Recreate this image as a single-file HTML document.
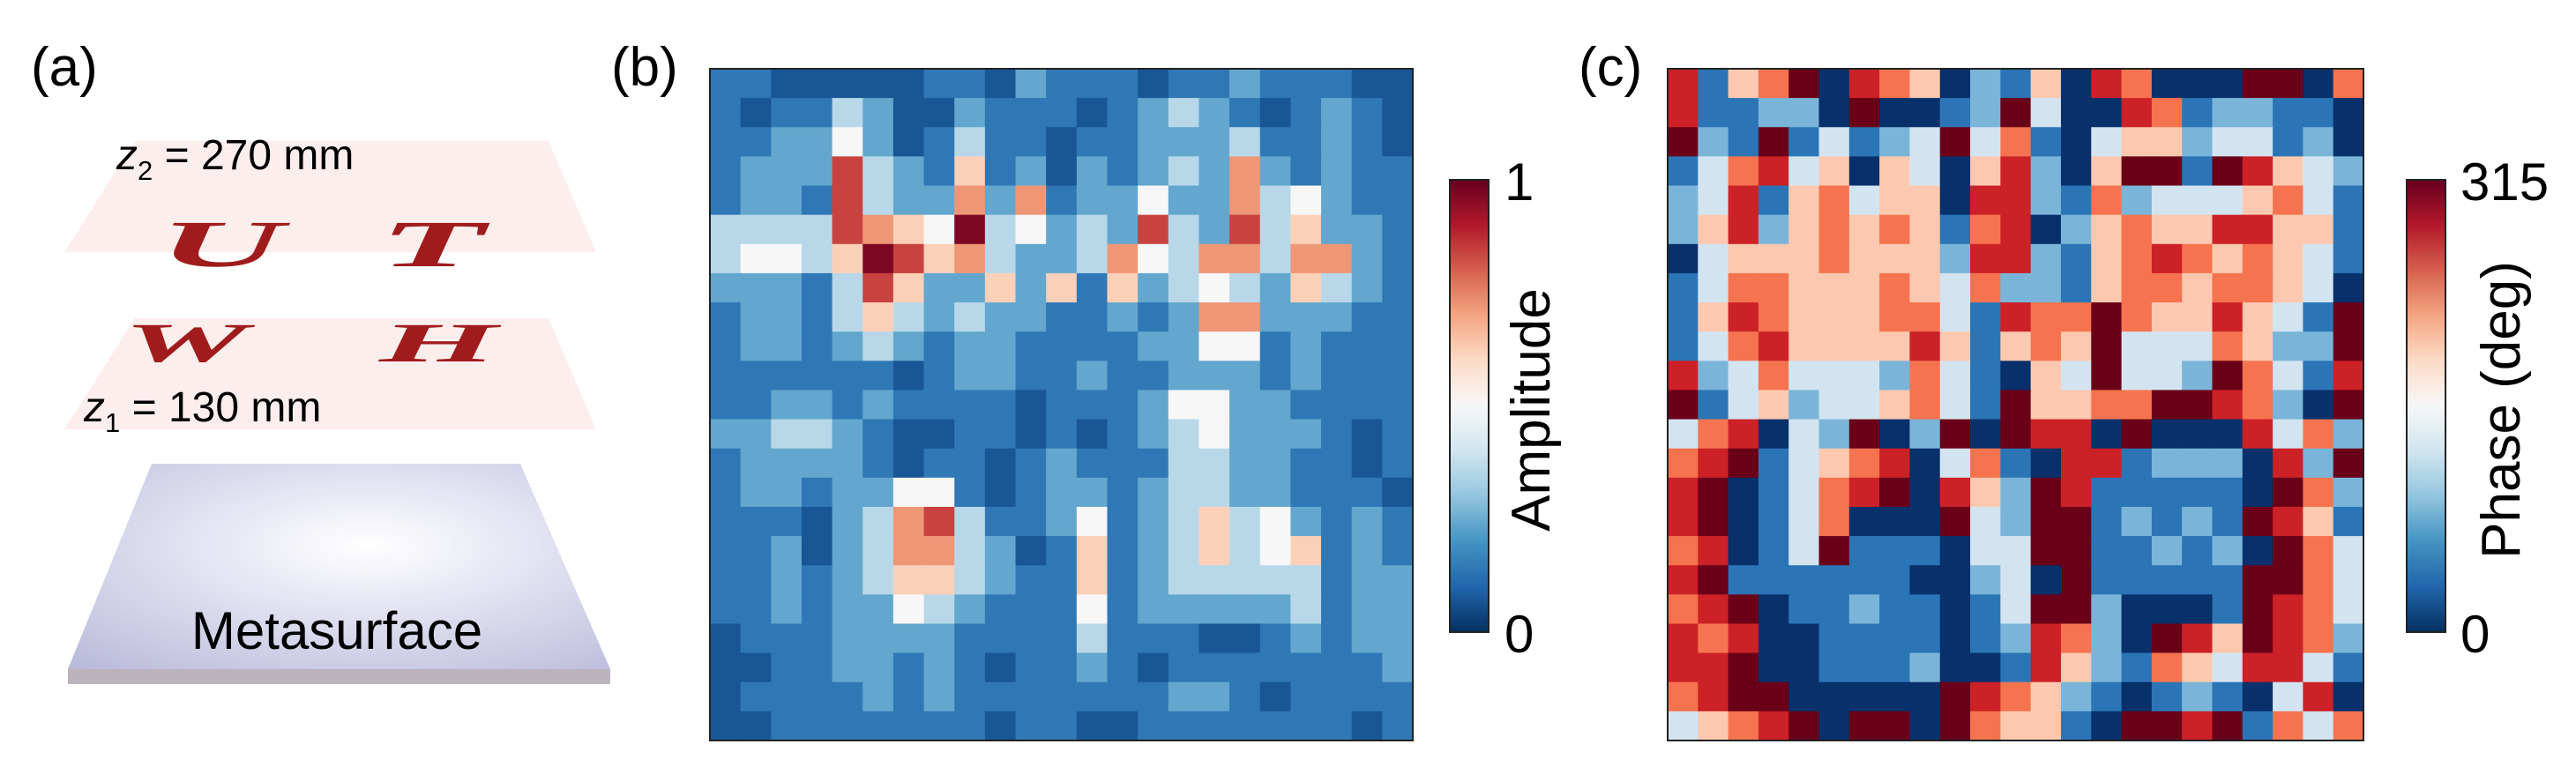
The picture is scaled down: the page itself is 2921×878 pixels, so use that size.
<!DOCTYPE html>
<html><head><meta charset="utf-8">
<style>
html,body{margin:0;padding:0;background:#fff;}
svg{display:block;font-family:"Liberation Sans",Arial,sans-serif;}
</style></head>
<body>
<svg id="fig" width="2921" height="878" viewBox="0 0 2921 878" xmlns="http://www.w3.org/2000/svg">
<defs>
<linearGradient id="cbar" x1="0" y1="1" x2="0" y2="0">
<stop offset="0" stop-color="#053061"/><stop offset="0.1" stop-color="#2166ac"/><stop offset="0.2" stop-color="#4393c3"/><stop offset="0.3" stop-color="#92c5de"/><stop offset="0.4" stop-color="#d1e5f0"/><stop offset="0.5" stop-color="#f7f7f7"/><stop offset="0.6" stop-color="#fddbc7"/><stop offset="0.7" stop-color="#f4a582"/><stop offset="0.8" stop-color="#d6604d"/><stop offset="0.9" stop-color="#b2182b"/><stop offset="1" stop-color="#67001f"/>
</linearGradient>
<radialGradient id="metal" cx="0.55" cy="0.4" r="0.8">
<stop offset="0" stop-color="#ffffff"/><stop offset="0.5" stop-color="#dcdcef"/><stop offset="1" stop-color="#b9bad9"/>
</radialGradient>
</defs>

<!-- Panel (a) -->
<text x="35" y="97" font-size="62">(a)</text>
<polygon points="153,160 622,160 676,286 73,286" fill="#fdeeee"/>
<text x="132" y="192" font-size="48"><tspan font-style="italic">z</tspan><tspan font-size="31" dy="12">2</tspan><tspan dy="-12"> = 270 mm</tspan></text>
<g fill="#a01c1c" font-weight="bold" font-style="italic" font-family="'Liberation Serif',serif">
<text transform="translate(180,302) scale(1.3,0.5)" font-size="150">U</text>
<text transform="translate(430,302) scale(1.3,0.5)" font-size="150">T</text>
</g>
<polygon points="153,361 622,361 676,487 73,487" fill="#fdeeee"/>
<g fill="#a01c1c" font-weight="bold" font-style="italic" font-family="'Liberation Serif',serif">
<text transform="translate(140,410) scale(1.05,0.42)" font-size="150">W</text>
<text transform="translate(430,410) scale(1.15,0.42)" font-size="150">H</text>
</g>
<text x="95" y="478" font-size="48"><tspan font-style="italic">z</tspan><tspan font-size="31" dy="12">1</tspan><tspan dy="-12"> = 130 mm</tspan></text>
<polygon points="172,526 590,526 692,759 77,759" fill="url(#metal)"/>
<polygon points="77,759 692,759 692,776 77,776" fill="#bdb3bd"/>
<text x="382" y="736" font-size="60" text-anchor="middle">Metasurface</text>

<!-- Panel (b) -->
<text x="693" y="97" font-size="62">(b)</text>
<g id="mapB"></g>
<rect x="805" y="78" width="797" height="762" fill="none" stroke="#222" stroke-width="2"/>
<rect x="1644" y="204" width="44" height="513" fill="url(#cbar)" stroke="#222" stroke-width="2"/>
<text x="1706" y="227" font-size="60">1</text>
<text x="1706" y="740" font-size="60">0</text>
<text transform="translate(1757,465) rotate(-90)" font-size="62" text-anchor="middle">Amplitude</text>

<!-- Panel (c) -->
<text x="1790" y="97" font-size="62">(c)</text>
<g id="mapC"></g>
<rect x="1891" y="78" width="789" height="762" fill="none" stroke="#222" stroke-width="2"/>
<rect x="2729" y="204" width="44" height="513" fill="url(#cbar)" stroke="#222" stroke-width="2"/>
<text x="2790" y="227" font-size="60">315</text>
<text x="2790" y="740" font-size="60">0</text>
<text transform="translate(2857,465) rotate(-90)" font-size="62" text-anchor="middle">Phase (deg)</text>
</svg>

<script>
// Amplitude levels (0..9), rows top to bottom
const ampRows = [
"22111112213222122322211",
"21224311322212343212321",
"22335312422122333422321",
"23338432623132343732322",
"23328433737233533745322",
"44448765945343843846332",
"45546986743347547747732",
"33324863363626345436432",
"23324643433223237733322",
"23323432332222335523222",
"22222212332232233323222",
"22332322221222355332222",
"33443211221212345333212",
"23333212212322244332212",
"23323355212332344332221",
"22213478422352346453232",
"22313477431262346456232",
"22323466432262344444233",
"22323354322252333334233",
"12223333222242221123233",
"11223323212232122222223",
"12222323222222233212222",
"11222222212211222222212"
];
// Phase levels (0..7 -> 0..315 deg in 45 deg steps)
const phaseRows = [
"61457065402140650007705",
"61122070012730065122110",
"72171312373510344233120",
"13563404304620477176432",
"23614534406621523334531",
"24624545415602454466441",
"03444544426621456545431",
"13554445435221455455430",
"14654445531655754464317",
"13564444641454733354227",
"62353332531043733275316",
"71342334531744557765207",
"35603270270766070006352",
"56713456035106612220627",
"67013567064276111110752",
"67013500073277121217641",
"56013711103377112120753",
"67111111002307111117753",
"56701121101377200017653",
"65600111101265207647652",
"66700111200164215436631",
"56770000076542101210360",
"34567077075441077671535"
];
const ampLevelValues = [0.0,0.07,0.14,0.24,0.36,0.5,0.62,0.72,0.84,0.97];
const phaseStep = 45;

const RdBu = ["#053061","#2166ac","#4393c3","#92c5de","#d1e5f0","#f7f7f7","#fddbc7","#f4a582","#d6604d","#b2182b","#67001f"];
const phaseColors = ["#08306b","#2b75b6","#7ab5d9","#d3e4f1","#fcc9b0","#f5744f","#cc2127","#6a0018"];
function hex(h){return [parseInt(h.slice(1,3),16),parseInt(h.slice(3,5),16),parseInt(h.slice(5,7),16)];}
function cmap(t){
  t=Math.max(0,Math.min(1,t));
  const p=t*(RdBu.length-1), i=Math.min(Math.floor(p),RdBu.length-2), f=p-i;
  const a=hex(RdBu[i]), b=hex(RdBu[i+1]);
  return "rgb("+a.map((v,k)=>Math.round(v+(b[k]-v)*f)).join(",")+")";
}
const NS="http://www.w3.org/2000/svg";
function drawMap(gid, rows, x0, y0, w, h, colorFn, name){
  const g=document.getElementById(gid);
  const nr=rows.length, nc=rows[0].length;
  const xs=c=>x0+c*w/nc, ys=r=>y0+r*h/nr;
  rows.forEach((row,r)=>{
    for(let c=0;c<nc;c++){
      const v=+row[c];
      const el=document.createElementNS(NS,"rect");
      el.setAttribute("x",xs(c).toFixed(2));
      el.setAttribute("y",ys(r).toFixed(2));
      el.setAttribute("width",(xs(c+1)-xs(c)+0.6).toFixed(2));
      el.setAttribute("height",(ys(r+1)-ys(r)+0.6).toFixed(2));
      el.setAttribute("fill",colorFn(v));
      
      
      g.appendChild(el);
    }
  });
}
drawMap("mapB", ampRows, 805, 78, 797, 762, v=>cmap(ampLevelValues[v]), "amplitude-cell");
drawMap("mapC", phaseRows, 1891, 78, 789, 762, v=>phaseColors[Math.round(v*phaseStep/45)], "phase-cell");
</script>
</body></html>
